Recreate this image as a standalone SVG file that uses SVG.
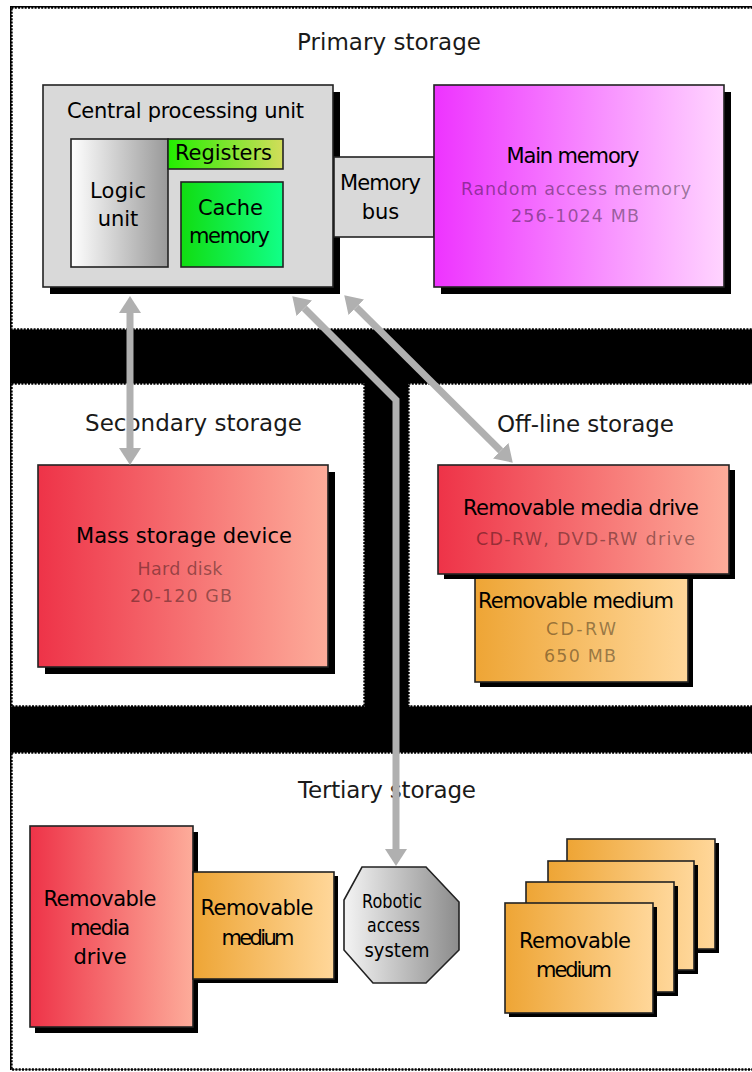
<svg xmlns="http://www.w3.org/2000/svg" width="752" height="1072" viewBox="0 0 752 1072">
<style>
.t{font-family:"DejaVu Sans","Liberation Sans",sans-serif;text-anchor:middle}
.title{font-size:23px;fill:#1a1a1a}
.lbl{font-size:21px;fill:#000}
.sub{font-size:17.5px;fill:#000;fill-opacity:0.4}
.panel{fill:#fff;stroke:#000;stroke-width:2.4;stroke-dasharray:2 1.3}
.box{stroke:#222;stroke-width:1.6}
.shadow{fill:#000}
.conn{fill:none;stroke:#b0b0b0;stroke-width:7;stroke-linejoin:miter}
</style>
<defs>
<linearGradient id="gRed" x1="0" x2="1" y1="0" y2="0"><stop offset="0" stop-color="#ee3348"/><stop offset="1" stop-color="#fdac9a"/></linearGradient>
<linearGradient id="gOrange" x1="0" x2="1" y1="0" y2="0"><stop offset="0" stop-color="#eea535"/><stop offset="1" stop-color="#ffd79a"/></linearGradient>
<linearGradient id="gMag" x1="0" x2="1" y1="0" y2="0"><stop offset="0" stop-color="#ee33ff"/><stop offset="1" stop-color="#ffd4ff"/></linearGradient>
<linearGradient id="gGray" x1="0" x2="1" y1="0" y2="0"><stop offset="0" stop-color="#ffffff"/><stop offset="1" stop-color="#999999"/></linearGradient>
<linearGradient id="gOct" x1="0" x2="1" y1="0" y2="0"><stop offset="0" stop-color="#f4f4f4"/><stop offset="1" stop-color="#8c8c8c"/></linearGradient>
<linearGradient id="gReg" x1="0" x2="1" y1="0" y2="0"><stop offset="0" stop-color="#22ee00"/><stop offset="1" stop-color="#d2dd5a"/></linearGradient>
<linearGradient id="gCache" x1="0" x2="1" y1="0" y2="0"><stop offset="0" stop-color="#11dd11"/><stop offset="1" stop-color="#11ff88"/></linearGradient>
<marker id="ah" viewBox="0 -12 18 24" refX="0" refY="0" markerWidth="18" markerHeight="24" markerUnits="userSpaceOnUse" orient="auto-start-reverse">
<path d="M0,-11 L17,0 L0,11 z" fill="#b0b0b0"/>
</marker>
</defs>

<rect x="10" y="6" width="750" height="1064" fill="#000"/>

<g id="panels">
<rect class="panel" x="11.5" y="7.5" width="780" height="322"/>
<rect class="panel" x="11.5" y="383.5" width="353" height="323"/>
<rect class="panel" x="408.5" y="383.5" width="380" height="323"/>
<rect class="panel" x="11.5" y="752.5" width="780" height="317"/>
</g>

<g id="section-titles">
<text class="t title" x="389" y="50" textLength="184">Primary storage</text>
<text class="t title" x="193.5" y="431" textLength="217">Secondary storage</text>
<text class="t title" x="585.5" y="432" textLength="177">Off-line storage</text>
<text class="t title" x="387" y="798" textLength="178">Tertiary storage</text>
</g>

<g id="cpu">
<rect class="shadow" x="50" y="92" width="290" height="202"/>
<rect class="box" x="43" y="85" width="290" height="202" fill="#d9d9d9"/>
<text class="t lbl" x="185.5" y="118" textLength="237">Central processing unit</text>
<g id="logic-unit">
<rect class="box" x="71" y="139" width="97" height="128" fill="url(#gGray)"/>
<text class="t lbl" x="118" y="198" textLength="56">Logic</text>
<text class="t lbl" x="118" y="226">unit</text>
</g>
<g id="registers">
<rect class="box" x="168" y="139" width="115" height="30" fill="url(#gReg)"/>
<text class="t lbl" x="223.5" y="160" textLength="97">Registers</text>
</g>
<g id="cache">
<rect class="box" x="181" y="182" width="102" height="85" fill="url(#gCache)"/>
<text class="t lbl" x="230.5" y="215" textLength="65">Cache</text>
<text class="t lbl" x="229.5" y="243" textLength="81">memory</text>
</g>
</g>

<g id="memory-bus">
<rect class="box" x="334" y="157" width="100" height="80" fill="#d9d9d9"/>
<text class="t lbl" x="380.5" y="190" textLength="81">Memory</text>
<text class="t lbl" x="380.5" y="219">bus</text>
</g>

<g id="main-memory">
<rect class="shadow" x="441" y="92" width="290" height="202"/>
<rect class="box" x="434" y="85" width="290" height="202" fill="url(#gMag)"/>
<text class="t lbl" x="573" y="163" textLength="133">Main memory</text>
<text class="t sub" x="576" y="195" textLength="230">Random access memory</text>
<text class="t sub" x="575" y="222" textLength="128">256-1024 MB</text>
</g>

<g id="mass-storage">
<rect class="shadow" x="45" y="472" width="290" height="202"/>
<rect class="box" x="38" y="465" width="290" height="202" fill="url(#gRed)"/>
<text class="t lbl" x="184" y="543" textLength="216">Mass storage device</text>
<text class="t sub" x="180" y="575" textLength="85">Hard disk</text>
<text class="t sub" x="181" y="602" textLength="102">20-120 GB</text>
</g>

<g id="offline-medium">
<rect class="shadow" x="480" y="579" width="213" height="108"/>
<rect class="box" x="475" y="574" width="213" height="108" fill="url(#gOrange)"/>
<text class="t lbl" x="576" y="608" textLength="196">Removable medium</text>
<text class="t sub" x="581" y="635" textLength="70">CD-RW</text>
<text class="t sub" x="580" y="662" textLength="72">650 MB</text>
</g>

<g id="offline-drive">
<rect class="shadow" x="444" y="470" width="291" height="109"/>
<rect class="box" x="438" y="465" width="291" height="109" fill="url(#gRed)"/>
<text class="t lbl" x="581" y="515" textLength="236">Removable media drive</text>
<text class="t sub" x="585.5" y="545" textLength="219">CD-RW, DVD-RW drive</text>
</g>

<g id="tertiary-drive">
<rect class="shadow" x="35" y="832" width="163" height="201"/>
<rect class="box" x="30" y="826" width="163" height="201" fill="url(#gRed)"/>
<text class="t lbl" x="100" y="906" textLength="113">Removable</text>
<text class="t lbl" x="100" y="935" textLength="60">media</text>
<text class="t lbl" x="100" y="964">drive</text>
</g>

<g id="tertiary-medium">
<rect class="shadow" x="197" y="876" width="141" height="107"/>
<rect class="box" x="193" y="872" width="141" height="107" fill="url(#gOrange)"/>
<text class="t lbl" x="257" y="915" textLength="113">Removable</text>
<text class="t lbl" x="258" y="945" textLength="73">medium</text>
</g>

<g id="robotic-access">
<polygon class="box" points="362,867 426,867 459,902 459,950 426,983 373,983 344,950 344,900" fill="url(#gOct)"/>
<text class="t" x="392" y="908" font-size="19" textLength="60" lengthAdjust="spacingAndGlyphs">Robotic</text>
<text class="t" x="393.5" y="932" font-size="19" textLength="53" lengthAdjust="spacingAndGlyphs">access</text>
<text class="t" x="397" y="957" font-size="19" textLength="65" lengthAdjust="spacingAndGlyphs">system</text>
</g>

<g id="media-stack">
<rect class="shadow" x="571" y="843" width="148" height="110"/>
<rect class="box" x="567" y="839" width="148" height="110" fill="url(#gOrange)"/>
<rect class="shadow" x="552" y="865" width="146" height="109"/>
<rect class="box" x="548" y="861" width="146" height="109" fill="url(#gOrange)"/>
<rect class="shadow" x="530" y="886" width="148" height="110"/>
<rect class="box" x="526" y="882" width="148" height="110" fill="url(#gOrange)"/>
<rect class="shadow" x="509" y="907" width="148" height="110"/>
<rect class="box" x="505" y="903" width="148" height="110" fill="url(#gOrange)"/>
<text class="t lbl" x="575" y="948" textLength="112">Removable</text>
<text class="t lbl" x="574" y="977" textLength="76">medium</text>
</g>

<g id="connectors">
<path class="conn" d="M130,313 L130,448" marker-start="url(#ah)" marker-end="url(#ah)"/>
<path class="conn" d="M356.3,307.3 L500.7,450.7" marker-start="url(#ah)" marker-end="url(#ah)"/>
<path class="conn" d="M304.3,308.3 L396,400 L396,849" marker-start="url(#ah)" marker-end="url(#ah)"/>
</g>
</svg>
